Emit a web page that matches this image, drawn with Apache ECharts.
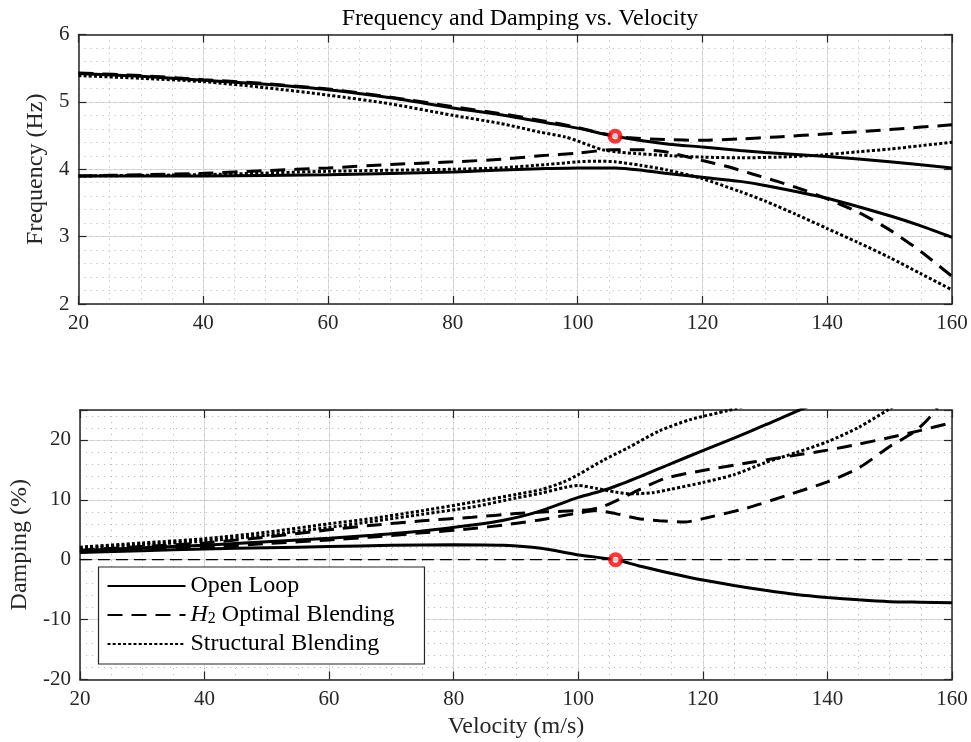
<!DOCTYPE html>
<html>
<head>
<meta charset="utf-8">
<script src="https://cdn.jsdelivr.net/npm/echarts@6/dist/echarts.min.js"></script>
<style>
  html, body { margin: 0; padding: 0; background: #fff; }
  #chart { width: 971px; height: 742px; }
</style>
</head>
<body>
<div id="chart"></div>
<script>
// ---- Flutter analysis results: velocity (m/s) vs frequency (Hz) / damping (%) ----

// Frequency, open loop (two aeroelastic modes)
const olFreqUpper = [[20,5.42],[30,5.38],[40,5.32],[50,5.26],[60,5.18],[70,5.06],[80,4.91],[87.6,4.81],[95,4.69],[100,4.61],[106,4.49],[114,4.38],[120,4.33],[126,4.28],[130,4.25],[140,4.19],[150,4.11],[160,4.02]];
const olFreqLower = [[20,3.90],[40,3.90],[60,3.92],[80,3.96],[88,3.99],[95,4.01],[100,4.02],[106,4.02],[110,3.99],[114,3.94],[120,3.88],[126,3.82],[130,3.76],[140,3.57],[150,3.31],[155,3.16],[160,2.99]];

// Frequency, H2 optimal blending
const h2FreqUpper = [[20,5.43],[30,5.39],[40,5.33],[50,5.27],[60,5.19],[70,5.07],[80,4.93],[88,4.82],[95,4.71],[100,4.62],[104,4.53],[108,4.47],[114,4.44],[120,4.43],[126,4.45],[132,4.48],[139,4.52],[150,4.59],[160,4.66]];
const h2FreqLower = [[20,3.90],[30,3.92],[40,3.94],[50,3.98],[60,4.02],[70,4.07],[80,4.11],[88,4.15],[94,4.20],[100,4.24],[105.7,4.29],[110,4.29],[114,4.26],[116,4.22],[120,4.13],[124,4.04],[128,3.93],[132,3.82],[136,3.70],[140,3.56],[145,3.36],[150,3.10],[155,2.78],[160,2.41]];

// Frequency, structural blending
const stFreqUpper = [[20,5.39],[30,5.35],[40,5.30],[50,5.21],[60,5.10],[70,4.97],[80,4.80],[87.6,4.68],[94,4.55],[98,4.48],[100,4.42],[102,4.35],[104,4.29],[107,4.25],[110,4.23],[115,4.20],[120,4.18],[126,4.17],[132,4.18],[139,4.21],[145,4.26],[150,4.30],[155,4.35],[160,4.40]];
const stFreqLower = [[20,3.90],[40,3.92],[60,3.97],[80,4.00],[87.6,4.02],[95,4.07],[100,4.11],[103,4.12],[106,4.11],[110,4.06],[114.3,3.99],[120,3.86],[126,3.67],[130,3.53],[135,3.33],[140,3.12],[145,2.91],[150,2.69],[155,2.45],[160,2.21]];

// Damping, open loop
const olDampFlutter = [[20,1.2],[30,1.5],[40,1.8],[50,2.0],[60,2.2],[70,2.4],[80,2.5],[88,2.4],[94,1.9],[100,0.8],[106,0],[110,-1.1],[115,-2.3],[120,-3.4],[125,-4.3],[130,-5.1],[135,-5.8],[140,-6.3],[145,-6.7],[150,-7.0],[155,-7.1],[160,-7.2]];
const olDampRising = [[20,1.5],[30,2.0],[40,2.4],[50,3.0],[60,3.6],[67,4.1],[75,4.8],[83,5.8],[88,6.6],[93.5,8.0],[100,10.4],[105,11.9],[110,13.9],[115,16.1],[120,18.2],[125,20.3],[130,22.5],[136,25.2],[140,26.8]];

// Damping, H2 optimal blending
const h2DampUpper = [[20,1.6],[30,2.2],[40,2.8],[50,3.8],[60,5.0],[67,5.75],[75,6.5],[83,7.1],[90,7.7],[95,8.0],[100,8.2],[102,8.4],[104,8.9],[106,9.8],[110,11.8],[114,13.6],[120,14.9],[128,16.3],[134,17.3],[140,18.3],[145,19.3],[150,20.4],[155,21.6],[160,22.9]];
const h2DampLower = [[20,1.3],[30,1.7],[40,2.1],[50,2.7],[60,3.3],[67,3.8],[75,4.5],[83,5.2],[88,5.8],[93.5,6.6],[100,7.8],[103,8.2],[106,7.7],[109.5,6.9],[113,6.5],[117,6.3],[121,7.1],[127,8.6],[133.5,10.75],[140,13.0],[145,15.3],[150,18.9],[152,20.1],[154,21.4],[156,23.3],[157.5,25.2],[158.5,26.8]];

// Damping, structural blending
const stDampSteep = [[20,2.1],[30,2.8],[40,3.5],[50,4.6],[60,6.0],[67,6.9],[75,8.2],[83,9.6],[90,10.9],[94,11.7],[97.7,13.0],[100,14.2],[104,16.6],[108,18.7],[113,21.5],[118,23.4],[124,24.9],[128,26.0]];
const stDampHump = [[20,1.9],[30,2.5],[40,3.1],[50,4.1],[60,5.4],[67,6.4],[75,7.6],[83,8.8],[90,10.3],[94,11.1],[98,12.1],[100,12.4],[103,11.9],[106,11.3],[108.5,11.0],[112,11.2],[115,11.8],[120,12.9],[125,14.2],[130,16.2],[135,17.9],[140,19.7],[145,22.1],[150,25.2],[152,26.5]];

// Open-loop flutter point
const flutterSpeed = 106;
const flutterFreq = 4.49;
const flutterDamp = 0;

// Legend entries
const legendNames = ['Open Loop', 'H2 Optimal Blending', 'Structural Blending'];

// Axis ranges, major steps and minor-grid steps
const velRange = [20, 160], velStep = 20, velMinor = 5;
const freqRange = [2, 6], freqStep = 1, freqMinor = 0.2;
const dampRange = [-20, 25], dampStep = 10, dampMinor = 2;

const FONT = "'Liberation Serif', 'DejaVu Serif', serif";
const INK = '#262626';
const DASH = [15, 9];
const DOT = [3, 2.2];
const MAJOR_GRID = { color: '#dcdcdc', width: 1 };
const MINOR_GRID = { color: '#bdbdbd', width: 1, type: [1.2, 4.8] };

const chart = echarts.init(document.getElementById('chart'), null, { renderer: 'canvas' });

const grids = [
  { left: 78.5, top: 34.5, width: 873.5, height: 269.5 },
  { left: 78.5, top: 410, width: 873.5, height: 269.5 }
];

const frameLine = { show: true, onZero: false, lineStyle: { color: INK, width: 1.5 } };
const frameTick = { show: true, inside: true, length: 8, lineStyle: { color: INK, width: 1.2 } };

// Three x axes per panel: labelled bottom, mirrored top, and a hidden minor-grid axis
function xAxes(gridIndex, withName) {
  const range = { type: 'value', gridIndex, min: velRange[0], max: velRange[1] };
  return [
    Object.assign({}, range, {
      interval: velStep, position: 'bottom',
      axisLine: frameLine, axisTick: frameTick,
      axisLabel: { show: true, fontFamily: FONT, fontSize: 21, color: INK, margin: 9 },
      splitLine: { show: true, lineStyle: MAJOR_GRID },
      name: withName ? 'Velocity (m/s)' : '',
      nameLocation: 'middle', nameGap: 35,
      nameTextStyle: { fontFamily: FONT, fontSize: 24, color: INK }
    }),
    Object.assign({}, range, {
      interval: velStep, position: 'top',
      axisLine: frameLine, axisTick: frameTick,
      axisLabel: { show: false }, splitLine: { show: false }
    }),
    Object.assign({}, range, {
      interval: velMinor, position: 'bottom',
      axisLine: { show: false }, axisTick: { show: false }, axisLabel: { show: false },
      splitLine: { show: true, lineStyle: MINOR_GRID }
    })
  ];
}

function yAxes(gridIndex, range, step, minor, name, gap) {
  const base = { type: 'value', gridIndex, min: range[0], max: range[1] };
  return [
    Object.assign({}, base, {
      interval: step, position: 'left',
      axisLine: frameLine, axisTick: frameTick,
      axisLabel: { show: true, fontFamily: FONT, fontSize: 21, color: INK, margin: 9,
                   formatter: v => (v % step === 0 ? String(v) : '') },
      splitLine: { show: true, lineStyle: MAJOR_GRID },
      name, nameLocation: 'middle', nameGap: gap,
      nameTextStyle: { fontFamily: FONT, fontSize: 24, color: INK }
    }),
    Object.assign({}, base, {
      interval: step, position: 'right',
      axisLine: frameLine, axisTick: frameTick,
      axisLabel: { show: false }, splitLine: { show: false }
    }),
    Object.assign({}, base, {
      interval: minor, position: 'left',
      axisLine: { show: false }, axisTick: { show: false }, axisLabel: { show: false },
      splitLine: { show: true, lineStyle: MINOR_GRID }
    })
  ];
}

// Axis indices of the labelled axes of each panel
const PANEL_AXIS = [0, 3];

function curve(name, data, dash, panel) {
  return {
    name, type: 'line', data,
    xAxisIndex: PANEL_AXIS[panel], yAxisIndex: PANEL_AXIS[panel],
    symbol: 'none', smooth: 0.25, clip: true,
    lineStyle: { color: '#000', width: 3, type: dash, cap: 'butt' },
    itemStyle: { color: '#000' },
    emphasis: { disabled: true }, z: 3
  };
}

function flutterMark(point, panel) {
  return {
    name: 'flutter', type: 'scatter', data: [point],
    xAxisIndex: PANEL_AXIS[panel], yAxisIndex: PANEL_AXIS[panel],
    symbol: 'circle', symbolSize: 10.5,
    itemStyle: { color: '#ffffff', borderColor: '#ff0000', borderWidth: 4.6 },
    emphasis: { disabled: true }, z: 6
  };
}

const option = {
  animation: false,
  backgroundColor: '#ffffff',
  title: {
    text: 'Frequency and Damping vs. Velocity',
    left: 515, top: 2, textAlign: 'center',
    textStyle: { fontFamily: FONT, fontSize: 24, fontWeight: 'normal', color: '#000' }
  },
  grid: grids,
  xAxis: [...xAxes(0, false), ...xAxes(1, true)],
  yAxis: [
    ...yAxes(0, freqRange, freqStep, freqMinor, 'Frequency (Hz)', 19),
    ...yAxes(1, dampRange, dampStep, dampMinor, 'Damping (%)', 39)
  ],
  legend: {
    data: legendNames,
    orient: 'vertical',
    left: 98.5, top: 567,
    padding: [7, 30, 8, 8],
    itemGap: 5,
    itemWidth: 78, itemHeight: 22,
    borderColor: INK, borderWidth: 1.2, borderRadius: 0,
    backgroundColor: '#ffffff',
    selectedMode: false,
    itemStyle: { opacity: 0 },
    formatter: function (name) {
      if (name === 'H2 Optimal Blending') return '{it|H}{sub|2}{n| Optimal Blending}';
      return '{n|' + name + '}';
    },
    textStyle: {
      fontFamily: FONT, fontSize: 24, color: '#000',
      rich: {
        n: { fontFamily: FONT, fontSize: 24, color: '#000', lineHeight: 24 },
        it: { fontFamily: FONT, fontSize: 24, fontStyle: 'italic', color: '#000', lineHeight: 24 },
        sub: { fontFamily: FONT, fontSize: 16, color: '#000', lineHeight: 12, verticalAlign: 'bottom' }
      }
    }
  },
  series: [
    curve('Open Loop', olFreqUpper, 'solid', 0),
    curve('Open Loop', olFreqLower, 'solid', 0),
    curve('H2 Optimal Blending', h2FreqUpper, DASH, 0),
    curve('H2 Optimal Blending', h2FreqLower, DASH, 0),
    curve('Structural Blending', stFreqUpper, DOT, 0),
    curve('Structural Blending', stFreqLower, DOT, 0),
    flutterMark([flutterSpeed, flutterFreq], 0),

    {
      name: 'zero', type: 'line', data: [[velRange[0], 0], [velRange[1], 0]],
      xAxisIndex: PANEL_AXIS[1], yAxisIndex: PANEL_AXIS[1], symbol: 'none',
      lineStyle: { color: '#000', width: 1.2, type: [12, 6] }, z: 2,
      emphasis: { disabled: true }
    },
    curve('Open Loop', olDampFlutter, 'solid', 1),
    curve('Open Loop', olDampRising, 'solid', 1),
    curve('H2 Optimal Blending', h2DampUpper, DASH, 1),
    curve('H2 Optimal Blending', h2DampLower, DASH, 1),
    curve('Structural Blending', stDampSteep, DOT, 1),
    curve('Structural Blending', stDampHump, DOT, 1),
    flutterMark([flutterSpeed, flutterDamp], 1)
  ]
};

chart.setOption(option);
</script>
</body>
</html>
